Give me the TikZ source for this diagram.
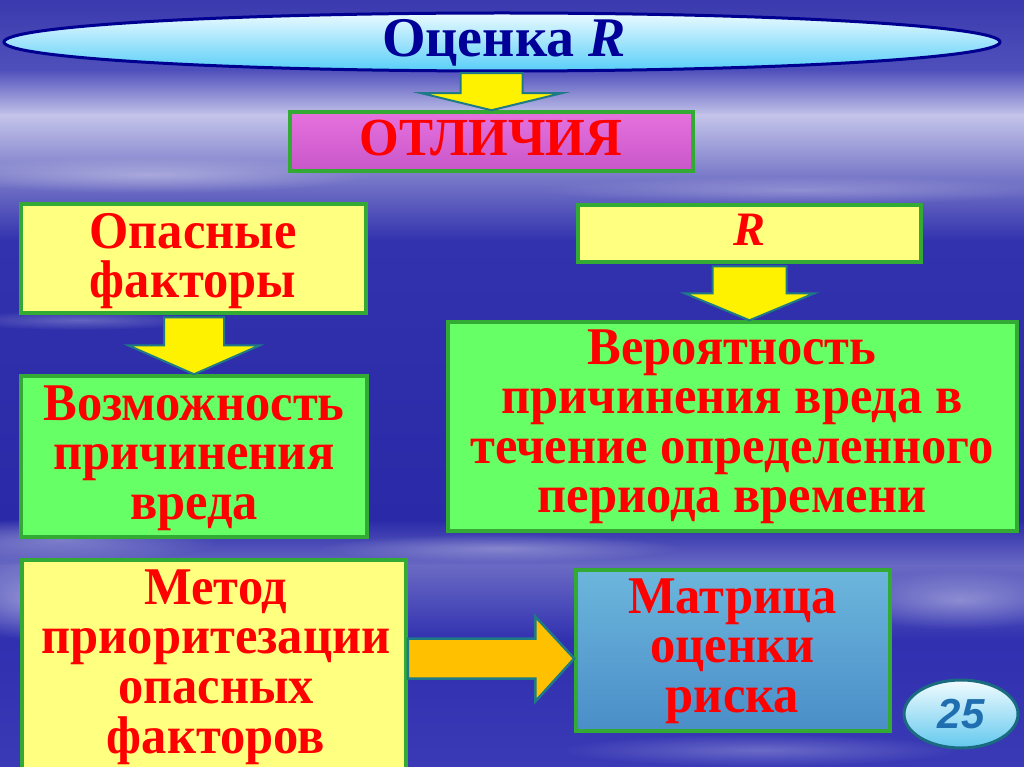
\documentclass[tikz,border=0pt]{standalone}
\usepackage{graphicx}
\usepackage{fontspec}
\setmainfont{Liberation Serif}
\newfontfamily\numfont{Liberation Sans}
\usetikzlibrary{shapes.geometric,calc,fadings}
\tikzfading[name=softglow, inner color=transparent!0, outer color=transparent!100]
\newcommand\txtlines[1]{\scalebox{1}[1.05]{\vtop{\lineskiplimit=-1000pt\lineskip=0pt
  \halign{\hfil##\hfil\cr#1\crcr}}}}
\definecolor{bordergreen}{HTML}{33AA33}
\definecolor{boxyellow}{HTML}{FFFF80}
\definecolor{boxgreen}{HTML}{66FF66}
\definecolor{titleblue}{HTML}{000099}
\definecolor{arrowedge}{HTML}{1F7A86}
\definecolor{arroworange}{HTML}{FFC000}
\definecolor{numblue}{HTML}{1F6EB0}
\definecolor{numedge}{HTML}{1A6A80}
\definecolor{bg1}{HTML}{3A3AAE}
\definecolor{bg2}{HTML}{5050BC}
\definecolor{bg3}{HTML}{C4C4EA}
\definecolor{bg4}{HTML}{8080CC}
\definecolor{bg5}{HTML}{3232AE}
\definecolor{bg6}{HTML}{2A2AA8}
\definecolor{bg7}{HTML}{6A6AC4}
\definecolor{bg8}{HTML}{3030B0}
\definecolor{bg9}{HTML}{3A3AB6}
\definecolor{elltop}{HTML}{EAFAFF}
\definecolor{ellbot}{HTML}{58CEF8}
\definecolor{elledge}{HTML}{000090}
\definecolor{pinktop}{HTML}{E672DE}
\definecolor{pinkbot}{HTML}{C956C9}
\definecolor{bluetop}{HTML}{6CB6DC}
\definecolor{bluebot}{HTML}{4A8EC8}
\definecolor{numtop}{HTML}{F2FCFF}
\definecolor{numbot}{HTML}{62C8EE}
\tikzset{
  box/.style={draw=bordergreen, line width=3.5pt, inner sep=0pt},
  lbl/.style={text=red, inner sep=0pt, anchor=base,
    font=\bfseries\fontsize{50.5}{47.3}\selectfont},
  yarrow/.style={fill=yellow, draw=arrowedge, line width=2pt, line join=miter},
  oarrow/.style={fill=arroworange, draw=arrowedge, line width=2.5pt, line join=miter},
  cloudy/.style={white, path fading=softglow},
}
\begin{document}
\begin{tikzpicture}[x=1pt,y=-1pt]
\useasboundingbox (0,0) rectangle (1024,767);
\clip (0,0) rectangle (1024,767);
% background
\shade[top color=bg1, bottom color=bg2] (0,0) rectangle (1024,71);
\shade[top color=bg2, bottom color=bg3] (0,70) rectangle (1024,116);
\shade[top color=bg3, bottom color=bg4] (0,115) rectangle (1024,171);
\shade[top color=bg4, bottom color=bg5] (0,170) rectangle (1024,241);
\shade[top color=bg5, bottom color=bg6] (0,240) rectangle (1024,521);
\shade[top color=bg6, bottom color=bg7] (0,520) rectangle (1024,566);
\shade[top color=bg7, bottom color=bg8] (0,565) rectangle (1024,641);
\shade[top color=bg8, bottom color=bg9] (0,640) rectangle (1024,767);
% soft light streaks
\fill[cloudy, opacity=0.35] (150,175) ellipse (220 and 18);
\fill[cloudy, opacity=0.25] (800,190) ellipse (260 and 14);
\fill[cloudy, opacity=0.25] (80,320) ellipse (120 and 10);
\fill[cloudy, opacity=0.3] (60,540) ellipse (160 and 22);
\fill[cloudy, opacity=0.4] (40,600) ellipse (90 and 40);
\fill[cloudy, opacity=0.3] (500,548) ellipse (180 and 14);
\fill[cloudy, opacity=0.35] (960,600) ellipse (120 and 30);
\fill[cloudy, opacity=0.25] (760,750) ellipse (200 and 16);
% title ellipse
\node[ellipse, draw=elledge, line width=3pt, top color=elltop, bottom color=ellbot,
  minimum width=996, minimum height=58, inner sep=0pt] (title) at (502,42) {};
\node[anchor=base, inner sep=0pt, text=titleblue, font=\bfseries\fontsize{56}{56}\selectfont]
  (titleT) at (504,57) {Оценка \textit{R}};
% boxes
\node[box, top color=pinktop, bottom color=pinkbot, minimum width=403, minimum height=59] (diff) at (491.5,141.5) {};
\node[lbl, font=\bfseries\fontsize{51}{51}\selectfont] (diffT) at (491,155.5) {\txtlines{ОТЛИЧИЯ}};
\node[box, fill=boxyellow, minimum width=345, minimum height=109] (haz) at (193.5,258.5) {};
\node[lbl] (hazT) at (193,248) {\txtlines{Опасные\cr факторы}};
\node[box, fill=boxgreen, minimum width=346, minimum height=161] (poss) at (194,456.5) {};
\node[lbl] (possT) at (194,420) {\txtlines{Возможность\cr причинения\cr вреда}};
\node[box, fill=boxyellow, minimum width=343, minimum height=57] (R) at (749.5,233.5) {};
\node[lbl, font=\bfseries\itshape\fontsize{48}{48}\selectfont] (RT) at (749,245) {R};
\node[box, fill=boxgreen, minimum width=569, minimum height=209] (prob) at (732.5,426.5) {};
\node[lbl] (probT) at (732,364) {\txtlines{Вероятность\cr причинения вреда в\cr течение определенного\cr периода времени}};
\node[box, fill=boxyellow, minimum width=384, minimum height=214] (meth) at (214,667) {};
\node[lbl] (methT) at (216,604) {\txtlines{Метод\cr приоритезации\cr опасных\cr факторов}};
\node[box, top color=bluetop, bottom color=bluebot, minimum width=314, minimum height=161] (mat) at (733,650.5) {};
\node[lbl] (matT) at (732.5,613) {\txtlines{Матрица\cr оценки\cr риска}};
% page number
\node[ellipse, draw=numedge, line width=3pt, top color=numtop, bottom color=numbot,
  minimum width=114, minimum height=68, inner sep=0pt, text=numblue,
  font=\numfont\bfseries\itshape\fontsize{42}{42}\selectfont] (num) at (961,714) {25};
% block arrows
\coordinate (t1) at (diff.north);
\draw[yarrow] ($(t1)+(-31,-37)$) -- ($(t1)+(-31,-17)$) -- ($(t1)+(-70,-17)$) -- (t1)
  -- ($(t1)+(70,-17)$) -- ($(t1)+(31,-17)$) -- ($(t1)+(31,-37)$) -- cycle;
\coordinate (t2) at (poss.north);
\draw[yarrow] ($(t2)+(-30,-57)$) -- ($(t2)+(-30,-29)$) -- ($(t2)+(-66,-29)$) -- (t2)
  -- ($(t2)+(66,-29)$) -- ($(t2)+(30,-29)$) -- ($(t2)+(30,-57)$) -- cycle;
\coordinate (t3) at (R.south |- prob.north);
\draw[yarrow] ($(t3)+(-37,-54)$) -- ($(t3)+(-37,-27)$) -- ($(t3)+(-65,-27)$) -- (t3)
  -- ($(t3)+(65,-27)$) -- ($(t3)+(37,-27)$) -- ($(t3)+(37,-54)$) -- cycle;
\coordinate (t4) at ($(mat.west)+(0,8)$);
\coordinate (s4) at (meth.east |- t4);
\draw[oarrow] ($(s4)+(0,-20)$) -- ($(t4)+(-39,-20)$) -- ($(t4)+(-39,-42)$) -- (t4)
  -- ($(t4)+(-39,43)$) -- ($(t4)+(-39,20)$) -- ($(s4)+(0,20)$) -- cycle;
\end{tikzpicture}
\end{document}
